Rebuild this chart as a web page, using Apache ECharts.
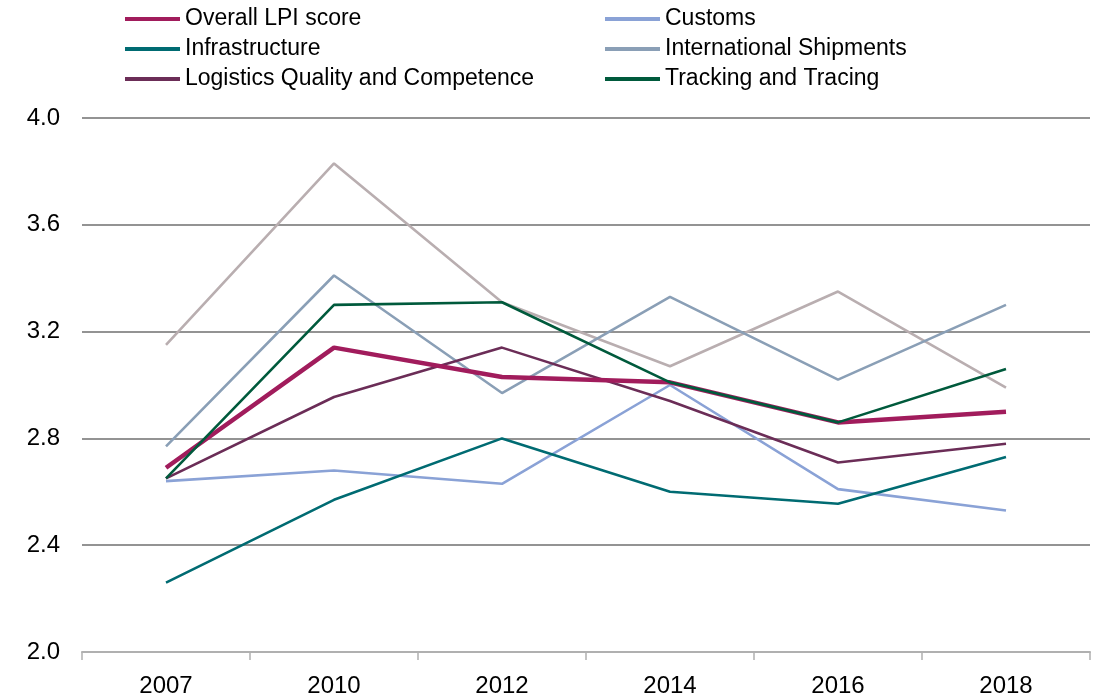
<!DOCTYPE html>
<html>
<head>
<meta charset="utf-8">
<script src="https://cdn.jsdelivr.net/npm/echarts@6/dist/echarts.min.js"></script>
<style>
html,body{margin:0;padding:0;background:#fff;}
#chart{width:1102px;height:699px;}
</style>
</head>
<body>
<div id="chart"></div>
<script>
const years = ['2007', '2010', '2012', '2014', '2016', '2018'];
const overall = [2.69, 3.14, 3.03, 3.01, 2.86, 2.90];
const customs = [2.64, 2.68, 2.63, 3.00, 2.61, 2.53];
const infrastructure = [2.26, 2.57, 2.80, 2.60, 2.555, 2.73];
const intlShipments = [2.77, 3.41, 2.97, 3.33, 3.02, 3.30];
const logistics = [2.65, 2.955, 3.14, 2.94, 2.71, 2.78];
const tracking = [2.65, 3.30, 3.31, 3.01, 2.86, 3.06];
const timeliness = [3.15, 3.83, 3.31, 3.07, 3.35, 2.99];

const FONT = 'Liberation Sans, Arial, sans-serif';
const chart = echarts.init(document.getElementById('chart'), null, {renderer: 'canvas'});

function ser(name, data, color, width, z) {
  return {
    name, type: 'line', data, symbol: 'none', z,
    lineStyle: {color, width}, itemStyle: {color},
    emphasis: {disabled: true}
  };
}

const legendCommon = {
  orient: 'vertical',
  top: 2,
  itemWidth: 55,
  itemHeight: 4,
  itemGap: 6,
  icon: 'rect',
  textStyle: {fontFamily: FONT, fontSize: 23, color: '#000', lineHeight: 24},
  selectedMode: false
};

chart.setOption({
  animation: false,
  backgroundColor: '#fff',
  legend: [
    Object.assign({}, legendCommon, {left: 120, data: ['Overall LPI score', 'Infrastructure', 'Logistics Quality and Competence']}),
    Object.assign({}, legendCommon, {left: 600, data: ['Customs', 'International Shipments', 'Tracking and Tracing']})
  ],
  grid: {left: 82, right: 12, top: 118, bottom: 47, containLabel: false},
  xAxis: {
    type: 'category',
    data: years,
    boundaryGap: true,
    axisLine: {lineStyle: {color: '#b0b0b0', width: 2}},
    axisTick: {show: true, alignWithLabel: false, length: 8, lineStyle: {color: '#b0b0b0', width: 1.5}},
    axisLabel: {fontFamily: FONT, fontSize: 24, color: '#000', margin: 22},
    splitLine: {show: false}
  },
  yAxis: {
    type: 'value',
    min: 2.0, max: 4.0, interval: 0.4,
    axisLine: {show: false},
    axisTick: {show: false},
    axisLabel: {fontFamily: FONT, fontSize: 24, color: '#000', margin: 22, formatter: v => v.toFixed(1)},
    splitLine: {lineStyle: {color: '#939393', width: 2}}
  },
  series: [
    ser('Timeliness', timeliness, '#b9aeb0', 2.6, 1),
    ser('International Shipments', intlShipments, '#8a9fb6', 2.6, 2),
    ser('Customs', customs, '#8aa2d6', 2.6, 3),
    ser('Infrastructure', infrastructure, '#006b72', 2.6, 4),
    ser('Logistics Quality and Competence', logistics, '#6b2d57', 2.6, 5),
    ser('Overall LPI score', overall, '#a11c5c', 4.5, 6),
    ser('Tracking and Tracing', tracking, '#005a3c', 2.6, 7)
  ]
});
</script>
</body>
</html>
